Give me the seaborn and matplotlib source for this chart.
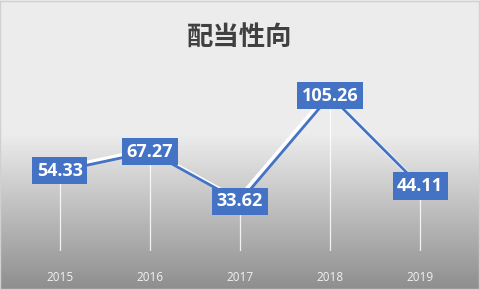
import numpy as np
import pandas as pd
import matplotlib
matplotlib.use("Agg")
import matplotlib.pyplot as plt
import matplotlib.patheffects as pe
import seaborn as sns

years = ["2015", "2016", "2017", "2018", "2019"]
values = [54.33, 67.27, 33.62, 105.26, 44.11]
title = "配当性向"

sns.set_style("white")
plt.rcParams['font.family'] = ['Noto Sans CJK JP', 'DejaVu Sans']

df = pd.DataFrame({"year": years, "value": values})
df["pos"] = range(len(years))

fig = plt.figure(figsize=(4.8, 2.9), dpi=100)

# gradient background
bg = fig.add_axes([0, 0, 1, 1], zorder=-2)
h = 290
y = np.linspace(0, 1, h)
g = np.where(y < 0.46, 0.925, 0.925 - (y - 0.46) / 0.54 * 0.37)
bg.imshow(g[:, None], aspect='auto', cmap='gray', vmin=0, vmax=1, extent=[0, 1, 0, 1], origin='upper')
bg.set_xlim(0, 1); bg.set_ylim(0, 1)
bg.axis('off')
bg.add_patch(plt.Rectangle((0.001, 0.002), 0.997, 0.995, fill=False, edgecolor='#d0d0d0', lw=1))

ax = fig.add_axes([0.031, 0.134, 0.938, 0.611])
ax.patch.set_alpha(0)
# drop lines from each point to the axis
ax.vlines(df["pos"], 0, df["value"], color='white', lw=0.9, alpha=0.85, zorder=0)

sns.lineplot(data=df, x="pos", y="value", ax=ax, color='#4472C4', lw=2.0,
             path_effects=[pe.SimpleLineShadow(offset=(-1.5, 1.5), shadow_color='white', alpha=1.0, linewidth=3),
                           pe.Normal()], zorder=2)

for x, v in zip(df["pos"], df["value"]):
    ax.text(x, v, f"{v:.2f}", ha='center', va='center', color='white', fontsize=13,
            fontweight='bold', family=['Open Sans', 'DejaVu Sans'], zorder=5,
            bbox=dict(boxstyle='square,pad=0.25', facecolor='#4472C4', edgecolor='none'))

ax.set_xlim(-0.5, 4.5)
ax.set_ylim(0, 120)
ax.set_xticks(df["pos"])
ax.set_xticklabels(years, color='#f2f2f2', fontsize=8.5, family=['Open Sans', 'DejaVu Sans'])
ax.tick_params(axis='x', length=0, pad=14)
ax.set_yticks([])
ax.set_xlabel(""); ax.set_ylabel("")
for s in ax.spines.values():
    s.set_visible(False)

fig.text(0.5, 1 - 38 / 290, title, ha='center', va='center', fontsize=19, fontweight='bold', color='#404040')

fig.savefig("out.png", dpi=100)
